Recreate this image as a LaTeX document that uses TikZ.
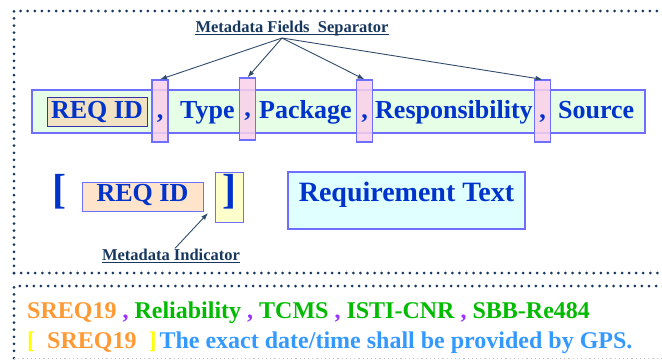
\documentclass[tikz,border=0pt]{standalone}
\usepackage{fontspec}
\setmainfont{Liberation Serif}[BoldFont={Liberation Serif Bold}]
\usetikzlibrary{arrows.meta, positioning}
\definecolor{navy}{HTML}{17375E}
\definecolor{arrowgrey}{HTML}{2F4B6B}
\definecolor{fieldblue}{HTML}{0033CC}
\definecolor{boxline}{HTML}{6F6FFF}
\definecolor{darkline}{HTML}{3333AA}
\definecolor{barfill}{HTML}{E6FDE6}
\definecolor{idfill}{HTML}{F2E2C4}
\definecolor{sepfill}{HTML}{FAD0EA}
\definecolor{peach}{HTML}{FFE4CC}
\definecolor{paleyellow}{HTML}{FFFFCC}
\definecolor{palecyan}{HTML}{E0FFFF}
\definecolor{exorange}{HTML}{FF9933}
\definecolor{expurple}{HTML}{9933FF}
\definecolor{exgreen}{HTML}{00BB00}
\definecolor{exblue}{HTML}{3399FF}
\definecolor{exyellow}{HTML}{FFFF00}
\tikzset{
  frame/.style={navy, line width=3pt, line cap=round, dash pattern=on 0pt off 7.07pt},
  field/.style={font=\rmfamily\fontsize{26}{28}\selectfont\bfseries, text=fieldblue, inner sep=0pt, anchor=base},
  bracket/.style={field, font=\rmfamily\fontsize{42}{42}\selectfont\bfseries},
  bar/.style={draw=boxline, fill=barfill, line width=1.2pt, minimum width=613pt, minimum height=43pt, inner sep=0pt},
  idbox/.style={field, draw=darkline, fill=idfill, line width=1pt, minimum width=100pt, text height=21pt, text depth=8pt},
  sepbox/.style={field, draw=boxline, fill=sepfill, fill opacity=.85, text opacity=1, line width=1.2pt, minimum width=16pt, text height=38pt, text depth=24pt},
  callout/.style={font=\rmfamily\fontsize{16.5}{18}\selectfont\bfseries, text=navy, inner sep=0pt, anchor=base},
  uline/.style={navy, line width=1.3pt},
  pointer/.style={-{Latex[length=7pt,width=5pt]}, draw=arrowgrey, line width=0.9pt},
  example/.style={font=\rmfamily\fontsize{24}{26}\selectfont\bfseries, inner sep=0pt, anchor=base west},
}

\begin{document}
\begin{tikzpicture}[x=1pt, y=-1pt]
  \useasboundingbox (0,0) rectangle (662,360);

  % dotted frames
  \draw[frame] (14,273) -- (14,11) -- (668,11);
  \draw[frame] (14,273) -- (668,273);
  \draw[frame] (14,358) -- (14,286) -- (668,286);
  \draw[gray!45, line width=0.8pt, dash pattern=on 1.2pt off 3pt] (14,358) -- (668,358);

  % metadata line
  \node[bar] (bar) at (338.5,111.5) {};
  \node[idbox] (reqid) at (97,118) {REQ ID};
  \node[sepbox] (sep1) at (160,118) {,};
  \node[field, anchor=base west] (type) at (180,118) {Type};
  \node[sepbox] (sep2) at (247.5,116) {,};
  \node[field, anchor=base west] (package) at (259,118) {Package};
  \node[sepbox] (sep3) at (364.5,118) {,};
  \node[field, anchor=base west] (resp) at (375,118) {Responsibility};
  \node[sepbox] (sep4) at (542.5,118) {,};
  \node[field, anchor=base west] (source) at (558,118) {Source};

  \node[callout] (seplabel) at (292,32) {Metadata Fields\ \ Separator};
  \draw[uline] ([yshift=-2.5pt]seplabel.base west) -- ([yshift=-2.5pt]seplabel.base east);
  \coordinate (fan) at (282,38);
  \foreach \s in {sep1,sep2,sep3,sep4}
    \draw[pointer] (fan) -- (\s.north);

  % requirement line
  \node[bracket] (open) at (59,203) {[};
  \node[idbox, draw=boxline, fill=peach, minimum width=121pt, text height=19pt, text depth=10pt] (reqid2) at (142.5,201) {REQ ID};
  \node[bracket, draw=boxline, fill=paleyellow, line width=1pt, minimum width=28pt, text height=31pt, text depth=19pt] (close) at (229,203) {]};
  \node[field, draw=boxline, fill=palecyan, line width=1.2pt, font=\rmfamily\fontsize{28}{30}\selectfont\bfseries, minimum width=237pt, text height=29pt, text depth=28pt] (reqtext) at (406.5,201) {Requirement Text};

  \node[callout] (indlabel) at (171,260) {Metadata Indicator};
  \draw[uline] ([yshift=-2.5pt]indlabel.base west) -- ([yshift=-2.5pt]indlabel.base east);
  \coordinate (gap) at (208,213);
  \draw[pointer] ([xshift=4pt]indlabel.north) -- (gap);

  % example
  \node[example] (line1) at (27,318) {\color{exorange}SREQ19 \color{expurple}, \color{exgreen}Reliability \color{expurple}, \color{exgreen}TCMS \color{expurple}, \color{exgreen}ISTI-CNR \color{expurple}, \color{exgreen}SBB-Re484};
  \node[example] (line2) at (27,348) {\color{exyellow}[\ \ \color{exorange}SREQ19\ \ \color{exyellow}]\hspace{3pt}\color{exblue}The exact date/time shall be provided by GPS.};
\end{tikzpicture}
\end{document}
